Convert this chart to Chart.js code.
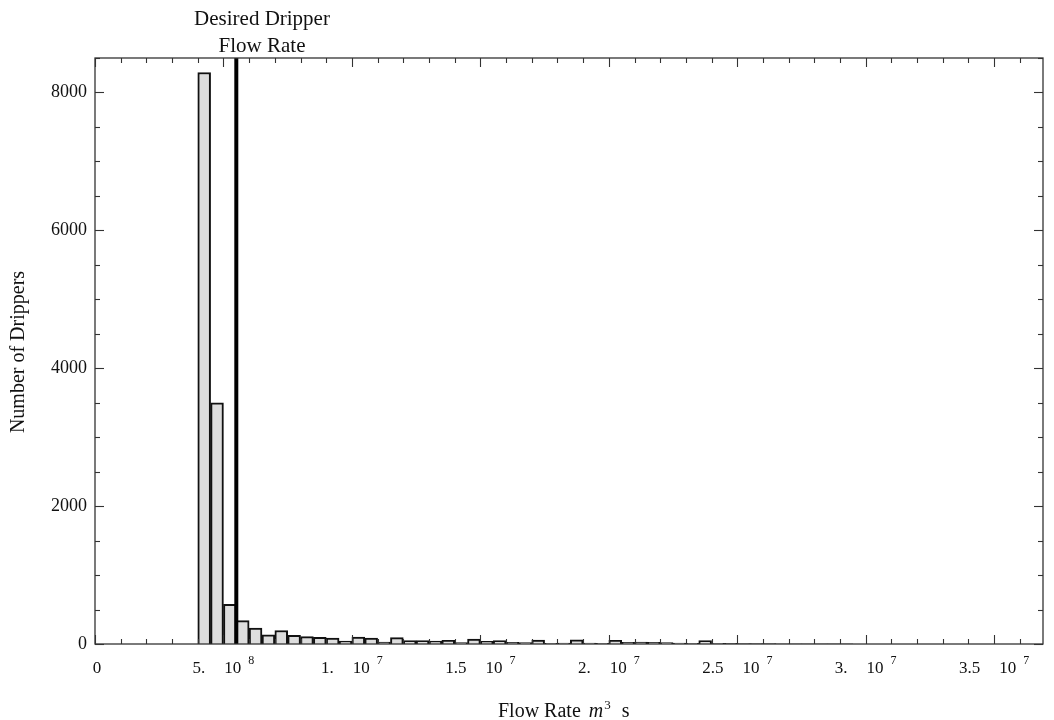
<!DOCTYPE html>
<html><head><meta charset="utf-8">
<script src="https://cdn.jsdelivr.net/npm/chart.js@4.4.1/dist/chart.umd.min.js"></script>
<style>html,body{margin:0;padding:0;background:#fff}#wrap{width:1054px;height:720px}</style>
</head><body><div id="wrap"><canvas id="c" width="1054" height="720"></canvas></div>
<script>
// Bin centres, in units of 1e-8 m^3/s (bin width 0.5e-8)
const binCenters = [4.25,4.75,5.25,5.75,6.25,6.75,7.25,7.75,8.25,8.75,9.25,9.75,
  10.25,10.75,11.25,11.75,12.25,12.75,13.25,13.75,14.25,14.75,15.25,15.75,16.25,16.75,
  17.25,17.75,18.25,18.75,19.25,19.75,20.25,20.75,21.25,21.75,22.25,22.75,23.25,23.75,
  24.25,24.75,25.25,25.75,26.25,26.75,27.25,27.75,28.25,28.75,29.25];
const dripperCounts = [8290,3500,575,338,232,132,196,126,106,97,87,44,
  100,87,29,92,48,48,44,53,22,70,39,48,24,19,
  58,10,15,60,15,10,55,24,29,24,19,15,10,48,
  10,8,6,5,5,4,3,2,2,1,1];
const desiredFlowRate = 5.5;
const xMajorTicks = [0,5,10,15,20,25,30,35];
const xTickMantissas = ['0','5.','1.','1.5','2.','2.5','3.','3.5'];
const xTickExponents = ['','8','7','7','7','7','7','7'];
const yTickValues = [0,2000,4000,6000,8000];
const annotationLines = ['Desired Dripper','Flow Rate'];
const yTitle = 'Number of Drippers';

const SERIF = '"Liberation Serif", "Times New Roman", serif';

const framePlugin = {
  id: 'frame',
  afterDatasetsDraw(chart) {
    const {ctx, chartArea: a, scales: {x, y}} = chart;
    const line = (x1,y1,x2,y2) => { ctx.beginPath(); ctx.moveTo(x1,y1); ctx.lineTo(x2,y2); ctx.stroke(); };
    ctx.save();
    // desired flow rate line
    const dx = x.getPixelForValue(desiredFlowRate);
    ctx.strokeStyle = '#000'; ctx.lineWidth = 4;
    line(dx, a.top, dx, a.bottom);
    // frame
    ctx.strokeStyle = '#333'; ctx.lineWidth = 1.3;
    ctx.strokeRect(a.left, a.top, a.right - a.left, a.bottom - a.top);
    // ticks
    ctx.lineWidth = 1.1;
    for (let v = 0; v <= x.max; v += 1) {
      const px = Math.round(x.getPixelForValue(v)) + 0.5;
      const len = (v % 5 === 0) ? 9 : 5;
      line(px, a.bottom, px, a.bottom - len);
      line(px, a.top, px, a.top + len);
    }
    for (let v = 0; v <= y.max; v += 500) {
      const py = Math.round(y.getPixelForValue(v)) + 0.5;
      const len = (v % 2000 === 0) ? 9 : 5;
      line(a.left, py, a.left + len, py);
      line(a.right, py, a.right - len, py);
    }
    // x tick labels
    ctx.fillStyle = '#111';
    ctx.textBaseline = 'alphabetic';
    ctx.textAlign = 'left';
    const mainFont = '17px ' + SERIF, expFont = '12px ' + SERIF;
    xMajorTicks.forEach((v, i) => {
      const px = x.getPixelForValue(v);
      const m = xTickMantissas[i], e = xTickExponents[i];
      ctx.font = mainFont;
      if (!e) { ctx.textAlign = 'center'; ctx.fillText(m, px + 2, 673); ctx.textAlign = 'left'; return; }
      const wM = ctx.measureText(m).width, w10 = ctx.measureText('10').width;
      ctx.font = expFont; const wE = ctx.measureText(e).width;
      const g1 = 19, g2 = 7;
      let sx = px - (wM + g1 + w10 + g2 + wE) / 2;
      ctx.font = mainFont;
      ctx.fillText(m, sx, 673); sx += wM + g1;
      ctx.fillText('10', sx, 673); sx += w10 + g2;
      ctx.font = expFont; ctx.fillText(e, sx, 664);
    });
    // x title: Flow Rate  m^3 s
    let tx = 498;
    ctx.font = '20px ' + SERIF; ctx.fillText('Flow Rate', tx, 717);
    tx += ctx.measureText('Flow Rate').width + 8;
    ctx.font = 'italic 20px ' + SERIF; ctx.fillText('m', tx, 717);
    tx += ctx.measureText('m').width + 1;
    ctx.font = '13px ' + SERIF; ctx.fillText('3', tx, 709);
    tx += ctx.measureText('3').width + 11;
    ctx.font = '20px ' + SERIF; ctx.fillText('s', tx, 717);
    // y title
    ctx.save();
    ctx.translate(19, 352); ctx.rotate(-Math.PI / 2);
    ctx.textAlign = 'center'; ctx.textBaseline = 'middle';
    ctx.font = '20px ' + SERIF; ctx.fillText(yTitle, 0, 0);
    ctx.restore();
    // annotation
    ctx.textAlign = 'center';
    ctx.font = '21px ' + SERIF;
    ctx.fillText(annotationLines[0], 262, 25);
    ctx.fillText(annotationLines[1], 262, 52);
    ctx.restore();
  }
};

new Chart(document.getElementById('c'), {
  type: 'bar',
  data: {
    datasets: [{
      data: binCenters.map((c, i) => ({x: c, y: dripperCounts[i]})),
      backgroundColor: '#dddddd',
      borderColor: '#111111',
      borderWidth: 2,
      barPercentage: 1,
      categoryPercentage: 1
    }]
  },
  options: {
    responsive: false,
    devicePixelRatio: 1,
    animation: false,
    layout: {padding: {top: 58, right: 11, left: 0, bottom: 0}},
    plugins: {legend: {display: false}, tooltip: {enabled: false}},
    scales: {
      x: {
        type: 'linear', min: 0, max: 36.9, offset: false,
        grid: {display: false, drawTicks: false}, border: {display: false},
        ticks: {display: false},
        afterFit(s) { s.height = 76; }
      },
      y: {
        min: 0, max: 8500,
        grid: {display: false, drawTicks: false}, border: {display: false},
        afterBuildTicks(s) { s.ticks = yTickValues.map(v => ({value: v})); },
        ticks: {padding: 8, color: '#111', font: {family: SERIF, size: 18}, callback: v => String(v)},
        afterFit(s) { s.width = 95; }
      }
    }
  },
  plugins: [framePlugin]
});
</script></body></html>
